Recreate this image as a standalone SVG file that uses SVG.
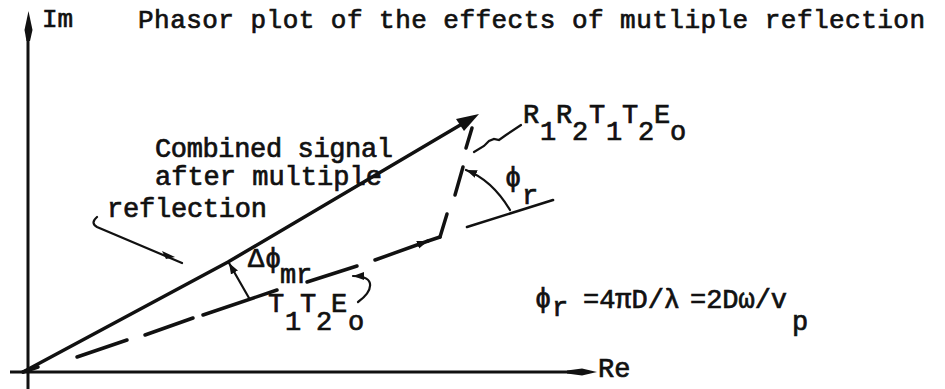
<svg xmlns="http://www.w3.org/2000/svg" width="945" height="389" viewBox="0 0 945 389">
<style>
text{font-family:"Liberation Mono","DejaVu Sans Mono",monospace;fill:#111;stroke:#111;stroke-width:0.7}
.t{font-size:26px}
.l{font-size:27px}
.ax{stroke:#111;stroke-width:3;fill:none}
.ph{stroke:#111;stroke-width:3.5;fill:none;stroke-linecap:round}
.ld{stroke:#111;stroke-width:2.2;fill:none;stroke-linecap:round}
.fill{fill:#111;stroke:none}
</style>
<defs>
<marker id="ah" markerUnits="userSpaceOnUse" markerWidth="12" markerHeight="10" refX="11" refY="5" orient="auto">
<path d="M0,1 L11,5 L0,9 z" fill="#111"/>
</marker>
</defs>
<rect width="945" height="389" fill="#fff"/>
<g id="connectors">
<g id="im-axis">
<line class="ax" x1="28" y1="389" x2="28" y2="34"/>
<path class="fill" d="M28.5,11 L32.5,30 L30,41 L26.5,41 L24.5,30 z"/>
</g>
<g id="re-axis">
<line class="ax" x1="10" y1="372" x2="575" y2="372"/>
<path class="fill" d="M597,372 L582,368.5 L567,370.5 L567,373.5 L582,375.5 z"/>
</g>
<g id="combined">
<path class="ph" d="M23,372 L228,262 L462,124"/>
<path class="fill" d="M479,114 L464,131 L460,125 L456,119 z"/>
</g>
<g id="t1t2eo-phasor">
<line class="ph" x1="23" y1="372" x2="38" y2="367"/>
<line class="ph" x1="77" y1="357" x2="127" y2="340"/>
<line class="ph" x1="145" y1="335" x2="193" y2="318"/>
<line class="ph" x1="203" y1="315" x2="277" y2="290"/>
<line class="ph" x1="307" y1="282" x2="357" y2="266"/>
<line class="ph" x1="375" y1="260" x2="428" y2="241" marker-end="url(#ah)"/>
<line class="ph" x1="428" y1="241" x2="440" y2="237"/>
</g>
<g id="r1r2-phasor">
<line class="ph" x1="440" y1="237" x2="447" y2="214"/>
<line class="ph" x1="455" y1="195" x2="463" y2="167"/>
<line class="ph" x1="466" y1="148" x2="472" y2="128"/>
</g>
<line class="ld" x1="467" y1="227" x2="553" y2="200" style="stroke-width:2.6"/>
<path class="ld" d="M510,210 Q492,180 466,170" marker-end="url(#ah)"/>
<line class="ld" x1="249" y1="298" x2="229" y2="263" marker-end="url(#ah)"/>
<path class="ld" d="M97,217 Q90,223 97,227 L182,263"/>
<path class="fill" d="M162,251 L175,257 L166,259 z"/>
<path class="ld" d="M474,152 L484,146 L489,141 L494,139 L499,140 L506,135 L521,125"/>
<path class="ld" d="M358,302 C372,292 378,276 353,276" marker-end="url(#ah)"/>
</g>
<g id="title"><text class="t" x="138" y="28" textLength="787" lengthAdjust="spacing">Phasor plot of the effects of mutliple reflection</text></g>
<g id="im-label"><text class="t" x="42" y="27">Im</text></g>
<g id="re-label"><text class="l" x="598" y="377">Re</text></g>
<g id="combined-label">
<text class="l" x="155" y="157" textLength="238" lengthAdjust="spacing">Combined signal</text>
<text class="l" x="155" y="185">after multiple</text>
<text class="l" x="107" y="217" textLength="160" lengthAdjust="spacing">reflection</text>
</g>
<g id="r1r2-label"><text class="l" x="523 540 556 572 589 606 622 638 654 670" y="123 140 123 140 123 140 123 140 123 140">R1R2T1T2Eo</text></g>
<g id="t1t2-label"><text class="l" x="268 285 300 316 331 348" y="312 330 312 330 312 330">T1T2Eo</text></g>
<g id="dphi-label"><text class="l" x="248 265 280 296" y="267 267 283 283">Δϕmr</text></g>
<g id="phir-label"><text class="l" x="505 522" y="186 204">ϕr</text></g>
<g id="formula">
<text class="l" x="535" y="307">ϕ</text>
<text class="l" x="552" y="316">r</text>
<text class="l" x="583" y="308" textLength="97" lengthAdjust="spacing">=4πD/λ</text>
<text class="l" x="690" y="308" textLength="97" lengthAdjust="spacing">=2Dω/v</text>
<text class="l" x="792" y="330">p</text>
</g>
</svg>
